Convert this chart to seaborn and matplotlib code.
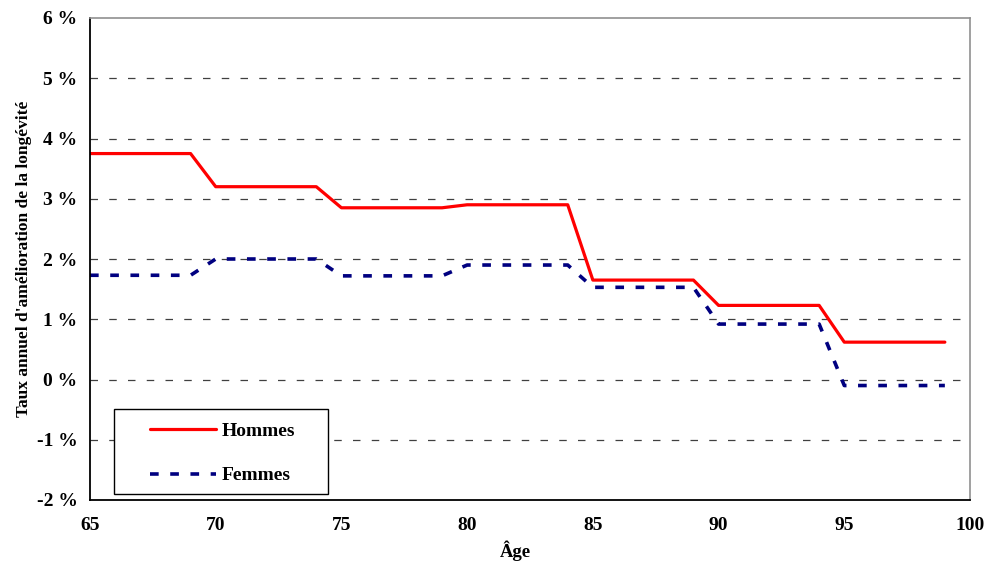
import pandas as pd
import numpy as np
import seaborn as sns
import matplotlib.pyplot as plt
from matplotlib.patches import Rectangle
from matplotlib.ticker import FuncFormatter

# ages 65..99, one value per age
ages = list(range(65, 100))
hommes = [3.75] * 5 + [3.20] * 5 + [2.85] * 5 + [2.90] * 5 + [1.65] * 5 + [1.23] * 5 + [0.62] * 5
femmes = [1.73] * 5 + [2.00] * 5 + [1.72] * 5 + [1.90] * 5 + [1.53] * 5 + [0.92] * 5 + [-0.10] * 5

x_ticks = [65, 70, 75, 80, 85, 90, 95, 100]
y_ticks = [-2, -1, 0, 1, 2, 3, 4, 5, 6]

df = pd.DataFrame({'age': ages, 'Hommes': hommes, 'Femmes': femmes})

sns.set_style('white')
plt.rcParams['font.family'] = ['Liberation Serif', 'DejaVu Serif']
plt.rcParams['font.weight'] = 'bold'
plt.rcParams['text.color'] = 'black'
plt.rcParams['axes.labelcolor'] = 'black'

fig = plt.figure(figsize=(9.87, 5.61), dpi=100)
ax = fig.add_axes([90 / 987, 61 / 561, 880 / 987, 482 / 561])

sns.lineplot(data=df, x='age', y='Hommes', ax=ax, color='#ff0000', linewidth=2.3, label='Hommes')
sns.lineplot(data=df, x='age', y='Femmes', ax=ax, color='#000080', linewidth=2.6,
             linestyle=(0, (2.4, 3.2)), label='Femmes')

ax.set_xlim(65, 100)
ax.set_ylim(-2, 6)
ax.set_xticks(x_ticks)
ax.set_yticks(y_ticks)
ax.yaxis.set_major_formatter(FuncFormatter(lambda v, p: '%d %%' % v))

# dashed horizontal gridlines
for v in y_ticks[1:-1]:
    ax.axhline(v, color='#404040', linestyle=(0, (6, 9)), linewidth=0.9, zorder=0)

for s in ['left', 'bottom']:
    ax.spines[s].set_color('black')
    ax.spines[s].set_linewidth(1.3)
for s in ['right', 'top']:
    ax.spines[s].set_color('#909090')
    ax.spines[s].set_linewidth(1.2)

ax.tick_params(axis='both', direction='out', length=5, width=1, colors='black', labelsize=14)
ax.tick_params(axis='y', pad=4)
ax.tick_params(axis='x', pad=7)
for lab in ax.get_xticklabels() + ax.get_yticklabels():
    lab.set_fontweight('bold')

ax.set_xlabel('Âge', fontsize=13.5, fontweight='bold')
ax.xaxis.set_label_coords(0.483, -0.083)
ax.set_ylabel("Taux annuel d'amélioration de la longévité", fontsize=12.5, fontweight='bold')
ax.yaxis.set_label_coords(-0.066, 0.5)

# legend box drawn separately, legend itself without frame
ax.add_patch(Rectangle((24 / 880, 6 / 482), 214 / 880, 85 / 482, transform=ax.transAxes,
                       facecolor='white', edgecolor='black', linewidth=1.0, zorder=3))
leg = ax.legend(loc='upper left', bbox_to_anchor=(60 / 880, 78 / 482), frameon=False,
                handlelength=3.4, borderaxespad=0, borderpad=0, labelspacing=1.4,
                handletextpad=0.3, prop={'weight': 'bold', 'size': 14})
leg.set_zorder(4)
for t in leg.get_texts():
    t.set_fontweight('bold')
    t.set_color('black')

plt.savefig('out.png', dpi=100)
